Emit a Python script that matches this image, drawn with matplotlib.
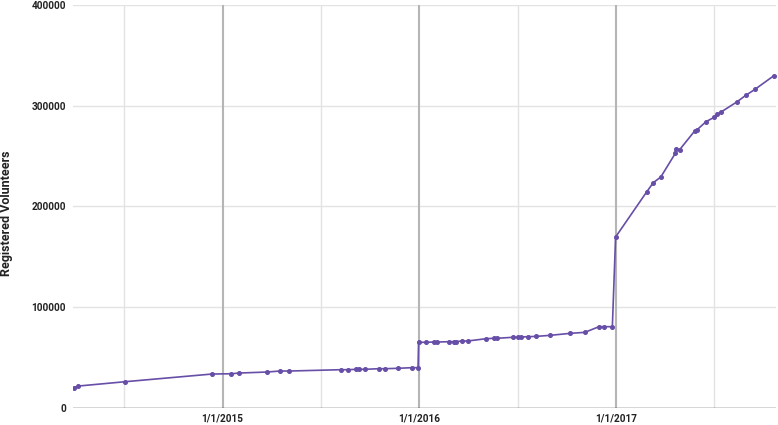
import matplotlib
matplotlib.use("Agg")
import matplotlib.pyplot as plt
import pandas as pd

dates = [
    "2014-03-30", "2014-04-08", "2014-07-04", "2014-12-12", "2015-01-17", "2015-02-01",
    "2015-03-24", "2015-04-18", "2015-05-05", "2015-08-08", "2015-08-22", "2015-09-06",
    "2015-09-12", "2015-09-22", "2015-10-18", "2015-10-30", "2015-11-22", "2015-12-18",
    "2015-12-30", "2015-12-31", "2016-01-13", "2016-01-29", "2016-02-04", "2016-02-26",
    "2016-03-06", "2016-03-09", "2016-03-20", "2016-03-31", "2016-05-05", "2016-05-19",
    "2016-05-25", "2016-06-24", "2016-07-02", "2016-07-09", "2016-07-22", "2016-08-06",
    "2016-08-31", "2016-10-08", "2016-11-04", "2016-11-30", "2016-12-09", "2016-12-25",
    "2016-12-31", "2017-02-27", "2017-03-11", "2017-03-25", "2017-04-21", "2017-04-22",
    "2017-04-29", "2017-05-27", "2017-05-31", "2017-06-17", "2017-07-02", "2017-07-08",
    "2017-07-15", "2017-08-13", "2017-08-30", "2017-09-16", "2017-10-21",
]
volunteers = [
    19800, 21800, 26100, 33700, 34000, 34700,
    35700, 36700, 36700, 38000, 38000, 38400,
    38400, 38400, 39000, 39000, 39400, 40000,
    40000, 65200, 65200, 65500, 65500, 65800,
    65800, 65800, 66500, 66500, 68800, 69200,
    69200, 70200, 70200, 70500, 70800, 71100,
    72100, 74100, 75100, 80700, 80700, 80700,
    169700, 214700, 223600, 229300, 252800, 256800,
    256400, 275000, 276000, 284200, 288500, 291500,
    293800, 303700, 310400, 316300, 329800,
]
y_ticks = [0, 100000, 200000, 300000, 400000]
major_ticks = ["2015-01-01", "2016-01-01", "2017-01-01"]
major_labels = ["1/1/2015", "1/1/2016", "1/1/2017"]
minor_ticks = ["2014-07-02", "2015-07-02", "2016-07-02", "2017-07-02"]
x_range = ["2014-03-29", "2017-10-25"]

plt.rcParams['font.family'] = ['Roboto', 'DejaVu Sans']

fig = plt.figure(figsize=(7.78, 4.25), dpi=100)
ax = fig.add_axes([73/778, 1-408/425, (776-73)/778, (408-5)/425])

x = pd.to_datetime(dates)
color = '#674ea7'

ax.set_xlim(pd.to_datetime(x_range[0]), pd.to_datetime(x_range[1]))
ax.set_ylim(0, 400000)

# grid lines
for yv in y_ticks[1:]:
    ax.axhline(yv, color='#e3e3e3', lw=1, zorder=0)
for d in minor_ticks:
    ax.axvline(pd.to_datetime(d), color='#e3e3e3', lw=1, zorder=0)
for d in major_ticks:
    ax.axvline(pd.to_datetime(d), color='#b5b5b5', lw=1.5, zorder=0)
ax.axhline(0, color='#333333', lw=1, zorder=1)

ax.plot(x, volunteers, color=color, lw=1.2, marker='o', markersize=2.6, zorder=3)

ax.set_yticks(y_ticks)
ax.set_yticklabels([str(v) for v in y_ticks], fontsize=7.2, fontweight='bold', color='#222222')
ax.set_xticks(pd.to_datetime(major_ticks))
ax.set_xticklabels(major_labels, fontsize=7.2, fontweight='bold', color='#222222')
ax.tick_params(axis='both', length=0)
ax.tick_params(axis='y', pad=5)
ax.tick_params(axis='x', pad=4)

for s in ax.spines.values():
    s.set_visible(False)

fig.text(7/778, 1-213/425, "Registered Volunteers", rotation=90, ha='center', va='center',
         fontsize=9, fontweight='bold', color='#222222')

fig.savefig("out.png", dpi=100)
